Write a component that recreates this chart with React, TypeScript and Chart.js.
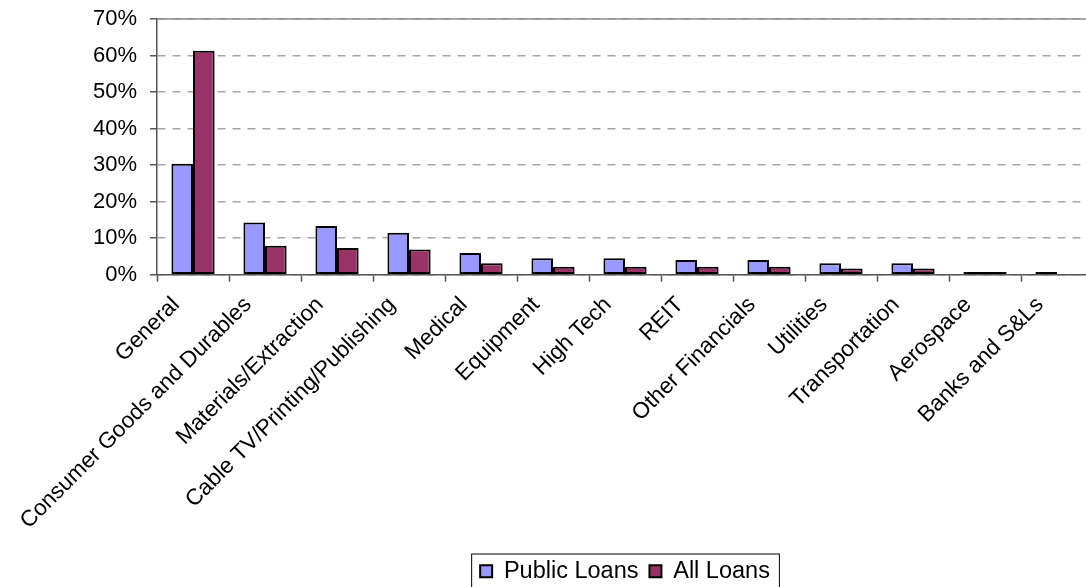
import React, { useEffect, useRef } from "react";
import { Chart, registerables, ChartConfiguration, Plugin } from "chart.js";

Chart.register(...registerables);

const categories = [
  "General",
  "Consumer Goods and Durables",
  "Materials/Extraction",
  "Cable TV/Printing/Publishing",
  "Medical",
  "Equipment",
  "High Tech",
  "REIT",
  "Other Financials",
  "Utilities",
  "Transportation",
  "Aerospace",
  "Banks and S&Ls",
];
const publicLoans = [30.4, 14.3, 13.3, 11.5, 5.9, 4.5, 4.5, 4.0, 4.0, 3.1, 3.1, 0.7, 0.7];
const allLoans = [61.3, 7.9, 7.3, 6.9, 3.1, 2.2, 2.2, 2.2, 2.2, 1.7, 1.7, 0.7, 0];
const yTicks = [0, 10, 20, 30, 40, 50, 60, 70];

const FONT = "'Liberation Sans', Arial, sans-serif";

// solid line on top of plot area + box around the legend
const framePlugin: Plugin<"bar"> = {
  id: "framePlugin",
  afterDraw(chart) {
    const { ctx, chartArea } = chart;
    ctx.save();
    ctx.strokeStyle = "#8c8c8c";
    ctx.lineWidth = 1.5;
    ctx.beginPath();
    ctx.moveTo(chartArea.left, chartArea.top);
    ctx.lineTo(chartArea.right, chartArea.top);
    ctx.stroke();

    const boxes = chart.legend?.legendHitBoxes || [];
    if (boxes.length) {
      const left = Math.min(...boxes.map((b) => b.left)) - 9;
      const right = Math.max(...boxes.map((b) => b.left + b.width)) + 9;
      const top = Math.min(...boxes.map((b) => b.top)) - 6;
      const bottom = Math.max(...boxes.map((b) => b.top + b.height)) + 4;
      ctx.strokeStyle = "#000";
      ctx.lineWidth = 1;
      ctx.strokeRect(left + 0.5, top + 0.5, right - left, bottom - top);
    }
    ctx.restore();
  },
};

const App: React.FC = () => {
  const canvasRef = useRef<HTMLCanvasElement | null>(null);
  const chartRef = useRef<Chart<"bar"> | null>(null);

  useEffect(() => {
    const canvas = canvasRef.current;
    if (!canvas) return;
    const ctx = canvas.getContext("2d");
    if (!ctx) return;

    const config: ChartConfiguration<"bar"> = {
      type: "bar",
      data: {
        labels: categories,
        datasets: [
          {
            label: "Public Loans",
            data: publicLoans,
            backgroundColor: "#9999FF",
            borderColor: "#000",
            borderWidth: 2,
            borderSkipped: false,
            categoryPercentage: 0.6,
            barPercentage: 1,
          },
          {
            label: "All Loans",
            data: allLoans,
            backgroundColor: "#993366",
            borderColor: "#000",
            borderWidth: 2,
            borderSkipped: false,
            categoryPercentage: 0.6,
            barPercentage: 1,
          },
        ],
      },
      options: {
        responsive: false,
        animation: false,
        layout: { padding: { left: 80, right: 7, top: 0, bottom: -6 } },
        scales: {
          x: {
            offset: true,
            afterFit: (scale) => {
              scale.height += 4;
            },
            grid: {
              offset: true,
              drawOnChartArea: false,
              drawTicks: true,
              tickLength: 7,
              tickColor: "#555",
              tickWidth: 1.5,
            },
            border: { color: "#555", width: 1.5 },
            ticks: {
              autoSkip: false,
              maxRotation: 45,
              minRotation: 45,
              color: "#000",
              font: { family: FONT, size: 22.5 },
              padding: 10,
              labelOffset: -17,
            },
          },
          y: {
            min: 0,
            max: 70,
            afterBuildTicks: (scale) => {
              scale.ticks = yTicks.map((v) => ({ value: v }));
            },
            afterFit: (scale) => {
              scale.paddingTop = 19;
            },
            grid: {
              color: "#a6a6a6",
              lineWidth: 1.5,
              tickLength: 7,
              tickColor: "#555",
              tickWidth: 1.5,
            },
            border: { color: "#555", width: 1.5, dash: [8, 7] },
            ticks: {
              color: "#000",
              font: { family: FONT, size: 22 },
              padding: 13,
              callback: (v) => `${v}%`,
            },
          },
        },
        plugins: {
          legend: {
            position: "bottom",
            fullSize: false,
            labels: {
              color: "#000",
              font: { family: FONT, size: 23.5 },
              boxWidth: 12,
              boxHeight: 12,
              padding: 11,
            },
          },
          tooltip: { enabled: false },
        },
      },
      plugins: [framePlugin],
    };

    chartRef.current = new Chart(ctx, config);

    return () => {
      if (chartRef.current) {
        chartRef.current.destroy();
        chartRef.current = null;
      }
    };
  }, []);

  return (
    <div
      style={{
        position: "fixed",
        left: 0,
        top: 0,
        width: 1086,
        height: 587,
        overflow: "hidden",
        background: "#fff",
      }}
    >
      <canvas ref={canvasRef} width={1100} height={587} style={{ display: "block" }} />
    </div>
  );
};

export default App;
